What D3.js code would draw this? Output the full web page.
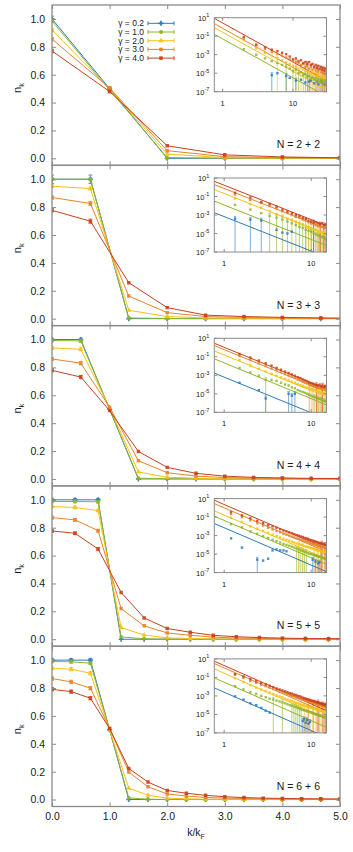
<!DOCTYPE html>
<html>
<head>
<meta charset="utf-8">
<script src="https://cdn.jsdelivr.net/npm/d3@7"></script>
<style>
body { margin: 0; background: #fff; }
svg { display: block; font-family: "Liberation Sans", Arial, sans-serif; }
</style>
</head>
<body>
<svg id="chart" width="353" height="852"></svg>
<script>
// momentum distribution n_k for 5 system sizes, 5 couplings
var gammaLabels = ["γ = 0.2", "γ = 1.0", "γ = 2.0", "γ = 3.0", "γ = 4.0"];
var colors = ["#2b7bba", "#8fb52a", "#f5c116", "#e8832a", "#c9411b"];
var sizeLabels = ["N = 2 + 2", "N = 3 + 3", "N = 4 + 4", "N = 5 + 5", "N = 6 + 6"];

// ---- main panels: k/kF and n_k (order: blue, green, yellow, orange, red)
var kN2 = [0, 1, 2, 3, 4, 5];
var nN2 = [
    [1.0, 0.5, 0.0, 0.0, 0.0, 0.0],
    [0.985, 0.49, 0.005, 0.001, 0.0, 0.0],
    [0.92, 0.5, 0.03, 0.005, 0.002, 0.001],
    [0.855, 0.505, 0.055, 0.012, 0.005, 0.002],
    [0.77, 0.48, 0.09, 0.025, 0.01, 0.004]
];
var eN2 = [[0.02, 0.01], [0.01, 0.01], [0.01, 0.01], [0.012, 0.01], [0.012, 0.01]];

var kN3 = [0, 0.667, 1.333, 2, 2.667, 3.333, 4, 4.667, 5.333];
var nN3 = [
    [1.0, 1.0, 0.0, 0.0, 0.0, 0.0, 0.0, 0.0, 0.0],
    [1.0, 1.0, 0.005, 0.001, 0.0, 0.0, 0.0, 0.0, 0.0],
    [0.95, 0.933, 0.06, 0.015, 0.005, 0.002, 0.001, 0.001, 0.0],
    [0.869, 0.826, 0.162, 0.043, 0.015, 0.008, 0.004, 0.002, 0.001],
    [0.777, 0.699, 0.258, 0.079, 0.025, 0.015, 0.009, 0.005, 0.003]
];
var eN3 = [[0.03, 0.03], [0.01, 0.01], [0.01, 0.012], [0.012, 0.015], [0.012, 0.015]];

var kN4 = [0, 0.5, 1, 1.5, 2, 2.5, 3, 3.5, 4, 4.5, 5];
var nN4 = [
    [1.0, 1.0, 0.5, 0.0, 0.0, 0.0, 0.0, 0.0, 0.0, 0.0, 0.0],
    [0.993, 0.99, 0.5, 0.005, 0.002, 0.001, 0.0, 0.0, 0.0, 0.0, 0.0],
    [0.94, 0.93, 0.51, 0.05, 0.012, 0.005, 0.002, 0.001, 0.001, 0.0, 0.0],
    [0.861, 0.83, 0.515, 0.13, 0.045, 0.02, 0.01, 0.006, 0.004, 0.002, 0.001],
    [0.779, 0.731, 0.49, 0.197, 0.083, 0.04, 0.02, 0.011, 0.007, 0.004, 0.003]
];
var eN4 = [[0.01, 0.01], [0.01, 0.01], [0.01, 0.01], [0.012, 0.012], [0.012, 0.012]];

var kN5 = [0, 0.4, 0.8, 1.2, 1.6, 2.0, 2.4, 2.8, 3.2, 3.6, 4.0, 4.4, 4.8, 5.2];
var nN5 = [
    [1.0, 1.0, 1.0, 0.0, 0.0, 0.0, 0.0, 0.0, 0.0, 0.0, 0.0, 0.0, 0.0, 0.0],
    [0.988, 0.988, 0.986, 0.017, 0.003, 0.001, 0.0, 0.0, 0.0, 0.0, 0.0, 0.0, 0.0, 0.0],
    [0.952, 0.945, 0.923, 0.084, 0.03, 0.01, 0.005, 0.003, 0.002, 0.001, 0.001, 0.0, 0.0, 0.0],
    [0.873, 0.856, 0.779, 0.22, 0.096, 0.045, 0.028, 0.015, 0.009, 0.006, 0.004, 0.003, 0.002, 0.002],
    [0.777, 0.76, 0.647, 0.336, 0.153, 0.077, 0.05, 0.028, 0.018, 0.012, 0.008, 0.005, 0.004, 0.003]
];
var eN5 = [[0.01, 0.01, 0.01], [0.01, 0.01, 0.01], [0.01, 0.01, 0.01], [0.01, 0.01, 0.01], [0.01, 0.01, 0.01]];

var kN6 = [0, 0.333, 0.667, 1, 1.333, 1.667, 2, 2.333, 2.667, 3, 3.333, 3.667, 4, 4.333, 4.667, 5];
var nN6 = [
    [1.0, 1.0, 1.0, 0.5, 0.0, 0.0, 0.0, 0.0, 0.0, 0.0, 0.0, 0.0, 0.0, 0.0, 0.0, 0.0],
    [0.99, 0.988, 0.978, 0.5, 0.012, 0.002, 0.001, 0.0, 0.0, 0.0, 0.0, 0.0, 0.0, 0.0, 0.0, 0.0],
    [0.942, 0.935, 0.906, 0.5, 0.081, 0.031, 0.01, 0.005, 0.003, 0.002, 0.001, 0.001, 0.001, 0.0, 0.0, 0.0],
    [0.868, 0.844, 0.799, 0.51, 0.197, 0.091, 0.04, 0.025, 0.015, 0.01, 0.007, 0.005, 0.004, 0.003, 0.002, 0.002],
    [0.791, 0.774, 0.727, 0.51, 0.223, 0.125, 0.065, 0.045, 0.03, 0.02, 0.014, 0.01, 0.008, 0.006, 0.005, 0.004]
];
var eN6 = [[0.012, 0.012, 0.012], [0.01, 0.01, 0.01], [0.01, 0.012, 0.012], [0.012, 0.012, 0.012], [0.012, 0.012, 0.012]];

// ---- insets: log10(n_k) vs k/kF, error bars reaching the floor, fitted tails
var qDomN2 = [0.76, 30];
var qN2 = [2, 3, 4, 5, 6, 7, 8, 9, 10, 11, 12, 13, 14, 15, 16, 17, 18, 19, 20, 21, 22, 23, 24, 25, 26, 27, 28, 29];
var lgN2 = [
    [null, null, null, -5.2, -5.0, null, -5.3, -5.5, null, -5.8, null, -5.7, null, -6.0, null, -5.9, -5.8, null, -6.1, null, -5.9, -6.2, null, -5.8, -6.0, null, -6.2, null],
    [-2.4, -3.0, -3.4, -3.7, -3.9, -4.1, -4.3, -4.5, -4.8, -4.6, -5.0, -4.9, -5.2, -5.1, -5.4, -5.3, -5.6, -5.4, -5.7, -5.5, -5.8, -5.6, -5.9, -5.7, -6.0, -5.8, -6.1, -5.9],
    [-1.43, -2.3, -2.8, -3.1, -3.4, -3.6, -3.8, -4.0, -4.2, -4.3, -4.5, -4.4, -4.6, -4.8, -4.7, -4.9, -5.1, -4.9, -5.2, -5.0, -5.3, -5.1, -5.4, -5.2, -5.5, -5.3, -5.6, -5.4],
    [-1.25, -2.0, -2.4, -2.7, -2.9, -3.1, -3.3, -3.5, -3.7, -3.8, -3.9, -4.1, -4.0, -4.3, -4.2, -4.5, -4.3, -4.6, -4.4, -4.7, -4.5, -4.8, -4.6, -4.9, -4.7, -5.0, -4.8, -5.1],
    [-1.07, -1.9, -2.2, -2.45, -2.6, -2.8, -2.95, -3.2, -3.5, -3.4, -3.7, -3.6, -3.9, -3.8, -4.0, -3.8, -4.1, -4.0, -4.3, -4.1, -4.4, -4.2, -4.5, -4.3, -4.6, -4.4, -4.7, -4.5]
];
var flN2 = [[3, 6, 9, 15, 23], [6, 8, 10, 12, 15, 18, 22], [4, 11, 17, 24], [9, 13, 16, 19, 21, 25, 27], [14, 20, 24, 26]];
var fitN2 = [null, [-0.79, -7.5], [-0.07, -6.8], [0.36, -6.4], [0.93, -5.8]];

var qDomN3 = [0.77, 15];
var qN3 = [1.333, 2, 2.667, 3.333, 4, 4.667, 5.333, 6, 6.667, 7.333, 8, 8.667, 9.333, 10, 10.667, 11.333, 12, 12.667, 13.333, 14, 14.667];
var lgN3 = [
    [-3.4, -3.5, -3.6, null, -4.6, -4.9, -5.0, -4.8, null, null, null, null, null, null, null, null, null, null, null, null, null],
    [-1.9, -2.4, -2.8, -3.1, -3.3, -3.5, -3.7, -3.9, -4.1, -4.3, -4.4, -4.6, -4.7, -4.8, -5.0, -5.1, -5.2, -5.3, -5.4, -5.5, -5.6],
    [-1.22, -1.82, -2.2, -2.6, -2.9, -3.1, -3.4, -3.5, -3.7, -3.9, -4.0, -4.2, -4.3, -4.5, -4.6, -4.6, -4.8, -4.9, -4.9, -5.0, -5.1],
    [-0.79, -1.37, -1.7, -2.0, -2.3, -2.6, -2.8, -3.0, -3.2, -3.3, -3.5, -3.6, -3.8, -3.9, -4.0, -4.1, -4.2, -4.2, -4.3, -4.4, -4.3],
    [-0.59, -1.1, -1.6, -1.8, -2.1, -2.4, -2.6, -2.8, -3.0, -3.1, -3.3, -3.4, -3.6, -3.7, -3.8, -3.8, -3.9, -4.0, -3.9, -4.1, -4.0]
];
var flN3 = [[0, 1, 2], [3, 4, 5, 6, 7, 8, 9, 10, 11, 12, 13, 14, 15, 16, 17, 18, 19, 20], [9, 12, 15, 18], [11, 13, 14, 16, 17, 19, 20], [14, 17, 19]];
var fitN3 = [[-2.75, -7.55], [-1.5, -6.3], [-0.25, -5.05], [0.29, -4.5], [0.64, -4.15]];

var qDomN4 = [0.77, 15];
var qN4 = [1.5, 2, 2.5, 3, 3.5, 4, 4.5, 5, 5.5, 6, 6.5, 7, 7.5, 8, 8.5, 9, 9.5, 10, 10.5, 11, 11.5, 12, 12.5, 13, 13.5, 14, 14.5, 15];
var lgN4 = [
    [-3.8, null, -4.6, -5.5, null, null, null, null, -5.0, -5.2, -5.0, null, null, null, null, null, null, null, null, null, null, null, null, null, null, null, null, null],
    [-2.2, -2.7, -3.05, -3.5, -3.5, -3.6, -3.8, -4.0, -4.1, -4.3, -4.4, -4.6, -4.7, -4.8, -4.9, -5.0, -5.1, -5.2, -5.3, -5.35, -5.45, -5.5, -5.55, -5.6, -5.7, -5.75, -5.8, -5.85],
    [-1.35, -1.95, -2.3, -2.6, -2.85, -3.05, -3.25, -3.4, -3.55, -3.7, -3.8, -3.95, -4.05, -4.15, -4.25, -4.35, -4.4, -4.5, -4.55, -4.6, -4.7, -4.75, -4.8, -4.85, -4.9, -4.95, -5.0, -5.05],
    [-0.89, -1.35, -1.7, -2.0, -2.25, -2.45, -2.65, -2.85, -3.0, -3.15, -3.3, -3.45, -3.55, -3.7, -3.8, -3.9, -4.0, -4.1, -4.15, -4.25, -4.3, -4.35, -4.4, -4.35, -4.5, -4.4, -4.55, -4.5],
    [-0.7, -1.08, -1.4, -1.7, -1.95, -2.2, -2.4, -2.6, -2.75, -2.9, -3.05, -3.2, -3.3, -3.45, -3.55, -3.65, -3.8, -3.85, -3.9, -4.0, -4.05, -4.1, -4.0, -4.2, -4.1, -4.25, -4.15, -4.3]
];
var flN4 = [[3, 8, 9, 10], [3, 19, 21, 23, 25, 27], [17, 20, 22, 24], [16, 18, 21, 23, 26], [20, 24, 27]];
var fitN4 = [[-2.76, -7.73], [-1.22, -6.2], [-0.36, -5.33], [0.21, -4.76], [0.46, -4.5]];

var qDomN5 = [0.77, 15];
var qN5 = [1.2, 1.6, 2, 2.4, 2.8, 3.2, 3.6, 4, 4.4, 4.8, 5.2, 5.6, 6, 6.4, 6.8, 7.2, 7.6, 8, 8.4, 8.8, 9.2, 9.6, 10, 10.4, 10.8, 11.2, 11.6, 12, 12.4, 12.8, 13.2, 13.6, 14, 14.4, 14.8];
var lgN5 = [
    [-3.3, -4.3, null, -5.6, -5.7, -5.5, -4.6, -4.5, -4.6, -4.6, -4.7, null, null, null, null, null, null, null, null, null, null, null, null, -5.6, null, -5.8, null, -6.0, -5.9, null, null, null, null, null, null],
    [-1.77, -2.1, -2.55, -2.8, -3.05, -3.25, -3.45, -3.6, -3.75, -3.9, -4.0, -4.1, -4.2, -4.3, -4.4, -4.5, -4.6, -4.65, -4.75, -4.8, -4.9, -4.95, -5.0, -5.05, -5.1, -5.15, -5.2, -5.25, -5.3, -5.3, -5.35, -5.4, -5.45, -5.5, -5.5],
    [-1.08, -1.52, -2.0, -2.25, -2.5, -2.7, -2.9, -3.05, -3.2, -3.35, -3.45, -3.55, -3.65, -3.75, -3.85, -3.9, -4.0, -4.05, -4.15, -4.2, -4.25, -4.3, -4.35, -4.4, -4.45, -4.5, -4.55, -4.6, -4.6, -4.65, -4.7, -4.7, -4.75, -4.8, -4.8],
    [-0.66, -1.02, -1.35, -1.66, -1.92, -2.15, -2.35, -2.5, -2.65, -2.8, -2.9, -3.0, -3.1, -3.2, -3.3, -3.35, -3.45, -3.5, -3.6, -3.65, -3.7, -3.8, -3.85, -3.9, -3.95, -4.0, -4.05, -4.1, -4.15, -4.2, -4.2, -4.25, -4.3, -4.35, -4.35],
    [-0.47, -0.82, -1.11, -1.4, -1.66, -1.85, -2.0, -2.15, -2.3, -2.45, -2.55, -2.65, -2.75, -2.85, -2.95, -3.0, -3.1, -3.15, -3.25, -3.3, -3.35, -3.45, -3.5, -3.55, -3.6, -3.65, -3.7, -3.75, -3.8, -3.85, -3.85, -3.9, -3.95, -4.0, -4.0]
];
var flN5 = [[3, 23, 25, 27, 28], [14, 15, 16, 17, 18, 19], [15, 17, 26, 30, 33], [24, 27, 29, 31, 34], [30, 33]];
var fitN5 = [[-1.69, -6.9], [-0.9, -6.1], [-0.33, -5.5], [0.46, -4.75], [0.82, -4.4]];

var qDomN6 = [0.77, 15];
var qN6 = [1.333, 1.667, 2, 2.333, 2.667, 3, 3.333, 3.667, 4, 4.333, 4.667, 5, 5.333, 5.667, 6, 6.333, 6.667, 7, 7.333, 7.667, 8, 8.333, 8.667, 9, 9.333, 9.667, 10, 10.333, 10.667, 11, 11.333, 11.667, 12, 12.333, 12.667, 13, 13.333, 13.667, 14, 14.333, 14.667, 15];
var lgN6 = [
    [-3.05, -3.4, -3.8, -4.0, -4.3, -4.6, -4.8, null, null, null, null, null, null, null, null, null, null, null, null, null, -5.7, -5.5, -5.9, -5.6, -6.0, -5.8, null, null, null, null, null, null, null, null, null, null, null, null, null, null, null, null],
    [-1.95, -2.3, -2.6, -2.8, -3.0, -3.15, -3.3, -3.4, -3.5, -3.6, -3.7, -3.8, -3.9, -4.0, -4.05, -4.15, -4.2, -4.3, -4.35, -4.45, -4.5, -4.55, -4.6, -4.65, -4.7, -4.75, -4.8, -4.85, -4.9, -4.95, -5.0, -5.0, -5.05, -5.1, -5.15, -5.15, -5.2, -5.25, -5.3, -5.3, -5.35, -5.4],
    [-1.09, -1.5, -1.85, -2.1, -2.3, -2.5, -2.65, -2.8, -2.95, -3.05, -3.15, -3.3, -3.4, -3.5, -3.55, -3.65, -3.75, -3.8, -3.85, -3.95, -4.0, -4.05, -4.1, -4.15, -4.2, -4.25, -4.3, -4.3, -4.35, -4.4, -4.45, -4.45, -4.5, -4.55, -4.55, -4.6, -4.65, -4.65, -4.7, -4.7, -4.75, -4.8],
    [-0.71, -1.04, -1.4, -1.6, -1.8, -1.95, -2.1, -2.25, -2.35, -2.5, -2.6, -2.7, -2.8, -2.9, -3.0, -3.05, -3.15, -3.2, -3.3, -3.35, -3.4, -3.45, -3.5, -3.55, -3.6, -3.65, -3.7, -3.75, -3.8, -3.8, -3.85, -3.9, -3.95, -3.95, -4.0, -4.05, -4.05, -4.1, -4.1, -4.15, -4.2, -4.2],
    [-0.65, -0.9, -1.19, -1.4, -1.6, -1.75, -1.9, -2.05, -2.2, -2.3, -2.4, -2.5, -2.6, -2.7, -2.75, -2.85, -2.9, -3.0, -3.05, -3.1, -3.2, -3.25, -3.3, -3.35, -3.4, -3.45, -3.5, -3.55, -3.55, -3.6, -3.65, -3.7, -3.7, -3.75, -3.8, -3.8, -3.85, -3.9, -3.9, -3.95, -4.0, -4.0]
];
var flN6 = [[20, 21, 22, 23, 25], [7, 10, 14, 15, 16, 17, 18, 19], [21, 23, 27, 30, 34, 38], [24, 28, 31, 33, 36, 39], [32, 37, 40]];
var fitN6 = [[-2.13, -7.48], [-1.05, -6.4], [-0.08, -5.43], [0.5, -4.85], [0.75, -4.6]];

var yTicks = [0, 0.2, 0.4, 0.6, 0.8, 1.0];
var xTicks = [0, 1, 2, 3, 4, 5];
var insetYTicks = [1e1, 1e-1, 1e-3, 1e-5, 1e-7];
var insetYExp = ["1", "-1", "-3", "-5", "-7"];

var panels = [
    {k: kN2, n: nN2, e: eN2, q: qN2, lg: lgN2, fl: flN2, fit: fitN2, qd: qDomN2},
    {k: kN3, n: nN3, e: eN3, q: qN3, lg: lgN3, fl: flN3, fit: fitN3, qd: qDomN3},
    {k: kN4, n: nN4, e: eN4, q: qN4, lg: lgN4, fl: flN4, fit: fitN4, qd: qDomN4},
    {k: kN5, n: nN5, e: eN5, q: qN5, lg: lgN5, fl: flN5, fit: fitN5, qd: qDomN5},
    {k: kN6, n: nN6, e: eN6, q: qN6, lg: lgN6, fl: flN6, fit: fitN6, qd: qDomN6}
];

var svg = d3.select("#chart");
var left = 52, right = 340, top0 = 5, ph = 160.3;
var frameColor = "#8a8a8a", textColor = "#1a1a1a";
var symbols = [d3.symbolCross, d3.symbolCircle, d3.symbolTriangle, d3.symbolSquare, d3.symbolSquare];
var symSize = [14, 12, 12, 12, 12];

var x = d3.scaleLinear().domain([0, 5]).range([left, right]);
var defs = svg.append("defs");

function styleAxis(g) {
    g.select(".domain").remove();
    g.selectAll(".tick line").attr("stroke", frameColor).attr("stroke-width", 1);
    g.selectAll(".tick text").attr("fill", textColor).style("font-size", "10.5px")
        .style("font-family", '"Liberation Sans", Arial, sans-serif');
}

panels.forEach(function(p, i) {
    var top = top0 + i * ph, bottom = top + ph;
    var y = d3.scaleLinear().domain([-0.05, 1.1]).range([bottom, top]);
    var g = svg.append("g").attr("class", "panel");

    defs.append("clipPath").attr("id", "clip" + i).append("rect")
        .attr("x", left).attr("y", top).attr("width", right - left).attr("height", ph);
    var plot = g.append("g").attr("clip-path", "url(#clip" + i + ")");

    p.n.forEach(function(vals, s) {
        var pts = vals.map(function(v, j) { return [p.k[j], v, p.e[s][j] || 0]; });
        plot.append("path").datum(pts)
            .attr("d", d3.line().x(function(d) { return x(d[0]); }).y(function(d) { return y(d[1]); }))
            .attr("fill", "none").attr("stroke", colors[s]).attr("stroke-width", 1);

        var bars = plot.selectAll(null).data(pts.filter(function(d) { return d[2] > 0; })).enter().append("g")
            .attr("stroke", colors[s]).attr("stroke-width", 0.9).attr("opacity", 0.85);
        bars.append("line")
            .attr("x1", function(d) { return x(d[0]); }).attr("x2", function(d) { return x(d[0]); })
            .attr("y1", function(d) { return y(d[1] - d[2]); }).attr("y2", function(d) { return y(d[1] + d[2]); });
        [-1, 1].forEach(function(sg) {
            bars.append("line")
                .attr("x1", function(d) { return x(d[0]) - 2; }).attr("x2", function(d) { return x(d[0]) + 2; })
                .attr("y1", function(d) { return y(d[1] + sg * d[2]); }).attr("y2", function(d) { return y(d[1] + sg * d[2]); });
        });

        plot.selectAll(null).data(pts).enter().append("path")
            .attr("transform", function(d) { return "translate(" + x(d[0]) + "," + y(d[1]) + ")"; })
            .attr("d", d3.symbol().type(symbols[s]).size(symSize[s]))
            .attr("fill", colors[s]).attr("opacity", 0.9);
    });

    // axes, ticks on all four sides pointing inward
    g.append("g").attr("transform", "translate(" + left + ",0)")
        .call(d3.axisLeft(y).tickValues(yTicks).tickSize(-4).tickPadding(7).tickFormat(d3.format(".1f")))
        .call(styleAxis);
    g.append("g").attr("transform", "translate(" + right + ",0)")
        .call(d3.axisRight(y).tickValues(yTicks).tickSize(-4).tickFormat(""))
        .call(styleAxis);
    g.append("g").attr("transform", "translate(0," + top + ")")
        .call(d3.axisTop(x).tickValues(xTicks).tickSize(-4).tickFormat(""))
        .call(styleAxis);
    g.append("g").attr("transform", "translate(0," + bottom + ")")
        .call(d3.axisBottom(x).tickValues(xTicks).tickSize(-4).tickPadding(6)
            .tickFormat(i == panels.length - 1 ? d3.format(".1f") : ""))
        .call(styleAxis);

    g.append("rect").attr("x", left).attr("y", top).attr("width", right - left).attr("height", ph)
        .attr("fill", "none").attr("stroke", frameColor).attr("stroke-width", 1.3);

    // y label
    var yl = g.append("text").attr("transform", "translate(21," + (top + 83) + ") rotate(-90)")
        .attr("text-anchor", "middle").attr("fill", textColor).style("font-size", "11px");
    yl.append("tspan").text("n");
    yl.append("tspan").attr("dy", 3).style("font-size", "7.5px").text("k");

    // system size label
    g.append("text").attr("x", 320).attr("y", bottom - 17).attr("text-anchor", "end")
        .attr("fill", textColor).style("font-size", "10.5px").text(sizeLabels[i]);

    // ---- inset
    var il = 214.3, ir = 326.5, itop = top + 12.7, ibot = itop + 74;
    var ix = d3.scaleLog().domain(p.qd).range([il, ir]);
    var iy = d3.scaleLog().domain([1e-7, 10]).range([ibot, itop]);
    var ig = g.append("g").attr("class", "inset");
    ig.append("rect").attr("x", il).attr("y", itop).attr("width", ir - il).attr("height", ibot - itop).attr("fill", "#fff");
    defs.append("clipPath").attr("id", "iclip" + i).append("rect")
        .attr("x", il).attr("y", itop).attr("width", ir - il).attr("height", ibot - itop);
    var ip = ig.append("g").attr("clip-path", "url(#iclip" + i + ")");

    p.lg.forEach(function(vals, s) {
        var pts = [];
        vals.forEach(function(v, j) {
            if (v !== null) pts.push({q: p.q[j], v: v, floor: p.fl[s].indexOf(j) >= 0});
        });
        // bars to the floor
        var fb = ip.selectAll(null).data(pts.filter(function(d) { return d.floor; })).enter().append("g")
            .attr("stroke", colors[s]).attr("stroke-width", 1).attr("opacity", 0.6);
        fb.append("line")
            .attr("x1", function(d) { return ix(d.q); }).attr("x2", function(d) { return ix(d.q); })
            .attr("y1", function(d) { return iy(Math.pow(10, d.v + 0.25)); }).attr("y2", ibot);
        fb.append("line")
            .attr("x1", function(d) { return ix(d.q) - 1.3; }).attr("x2", function(d) { return ix(d.q) + 1.3; })
            .attr("y1", function(d) { return iy(Math.pow(10, d.v + 0.25)); })
            .attr("y2", function(d) { return iy(Math.pow(10, d.v + 0.25)); });
    });
    p.fit.forEach(function(f, s) {
        if (!f) return;
        ip.append("line")
            .attr("x1", ix(p.qd[0])).attr("y1", iy(Math.pow(10, f[0])))
            .attr("x2", ix(p.qd[1])).attr("y2", iy(Math.pow(10, f[1])))
            .attr("stroke", colors[s]).attr("stroke-width", 1);
    });
    p.lg.forEach(function(vals, s) {
        var pts = [];
        vals.forEach(function(v, j) { if (v !== null) pts.push({q: p.q[j], v: v}); });
        ip.selectAll(null).data(pts).enter().append("rect")
            .attr("x", function(d) { return ix(d.q) - 1.2; })
            .attr("y", function(d) { return iy(Math.pow(10, d.v)) - 1.2; })
            .attr("width", 2.4).attr("height", 2.4)
            .attr("fill", colors[s]).attr("opacity", 0.85);
    });

    ig.append("rect").attr("x", il).attr("y", itop).attr("width", ir - il).attr("height", ibot - itop)
        .attr("fill", "none").attr("stroke", frameColor).attr("stroke-width", 1);

    insetYTicks.forEach(function(t, j) {
        var yy = iy(t);
        ig.append("line").attr("x1", il).attr("x2", il + 3).attr("y1", yy).attr("y2", yy)
            .attr("stroke", frameColor);
        ig.append("line").attr("x1", ir - 3).attr("x2", ir).attr("y1", yy).attr("y2", yy)
            .attr("stroke", frameColor);
        var tx = ig.append("text").attr("x", il - 5).attr("y", yy + 3).attr("text-anchor", "end")
            .attr("fill", textColor).style("font-size", "7.5px");
        tx.append("tspan").text("10");
        tx.append("tspan").attr("dy", -3.5).style("font-size", "5.5px").text(insetYExp[j]);
    });
    [1, 10].forEach(function(t) {
        var xx = ix(t);
        ig.append("line").attr("x1", xx).attr("x2", xx).attr("y1", ibot).attr("y2", ibot - 3).attr("stroke", frameColor);
        ig.append("line").attr("x1", xx).attr("x2", xx).attr("y1", itop).attr("y2", itop + 3).attr("stroke", frameColor);
        ig.append("text").attr("x", xx).attr("y", ibot + 14).attr("text-anchor", "middle")
            .attr("fill", textColor).style("font-size", "7.5px").text(t);
    });
});

// legend in the first panel
var legend = svg.append("g").attr("class", "legend");
gammaLabels.forEach(function(lab, s) {
    var yy = 23.3 + s * 8.7;
    legend.append("text").attr("x", 144).attr("y", yy + 3).attr("text-anchor", "end")
        .attr("fill", textColor).style("font-size", "8.5px").text(lab);
    legend.append("line").attr("x1", 148).attr("x2", 174).attr("y1", yy).attr("y2", yy)
        .attr("stroke", colors[s]).attr("stroke-width", 1);
    [148, 174].forEach(function(cx) {
        legend.append("line").attr("x1", cx).attr("x2", cx).attr("y1", yy - 2).attr("y2", yy + 2)
            .attr("stroke", colors[s]).attr("stroke-width", 1);
    });
    legend.append("path").attr("transform", "translate(161," + yy + ")")
        .attr("d", d3.symbol().type(symbols[s]).size(symSize[s])).attr("fill", colors[s]);
});

// x label
var xl = svg.append("text").attr("x", 196).attr("y", 836).attr("text-anchor", "middle")
    .attr("fill", textColor).style("font-size", "10.5px");
xl.append("tspan").text("k/k");
xl.append("tspan").attr("dy", 2.5).style("font-size", "7px").text("F");
</script>
</body>
</html>
